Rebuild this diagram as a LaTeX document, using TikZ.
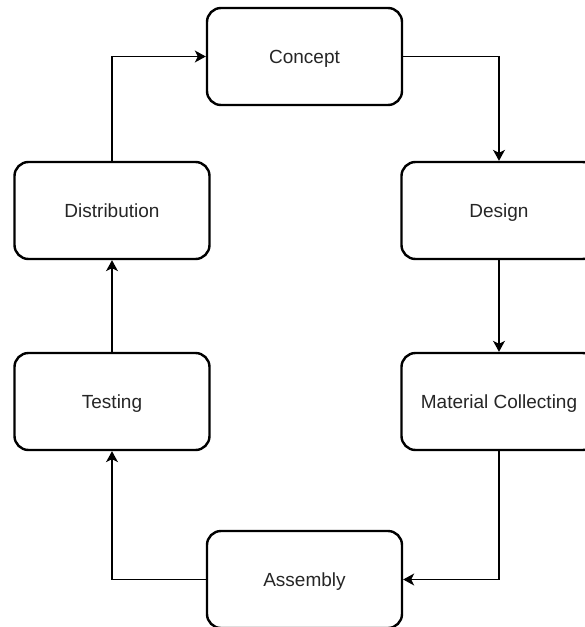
\documentclass[tikz,border=0pt]{standalone}
\usepackage{fontspec}
\setmainfont{Liberation Sans}
\usetikzlibrary{arrows.meta}
\begin{document}
\begin{tikzpicture}[x=1pt,y=-1pt,
  stepbox/.style={draw=black, line width=2.4pt, rounded corners=14pt, fill=white,
    minimum width=195pt, minimum height=97pt, inner sep=0pt,
    text height=13.6pt, text depth=0pt,
    font=\fontsize{19pt}{22pt}\selectfont, text=black!85},
  conn/.style={draw=black, line width=1.2pt, -{Stealth[length=11pt,width=12pt,inset=3pt]}}]
\useasboundingbox (0,0) rectangle (585,627);
\node[stepbox] (concept) at (304.5,56.5) {Concept};
\node[stepbox] (design) at (499,210.5) {Design};
\node[stepbox] (material) at (499,401.5) {Material Collecting};
\node[stepbox] (assembly) at (304.5,579.5) {Assembly};
\node[stepbox] (testing) at (112,401.5) {Testing};
\node[stepbox] (distribution) at (112,210.5) {Distribution};
\draw[conn] (concept.east) -| (design.north);
\draw[conn] (design.south) -- (material.north);
\draw[conn] (material.south) |- (assembly.east);
\draw[conn] (assembly.west) -| (testing.south);
\draw[conn] (testing.north) -- (distribution.south);
\draw[conn] (distribution.north) |- (concept.west);
\end{tikzpicture}
\end{document}
